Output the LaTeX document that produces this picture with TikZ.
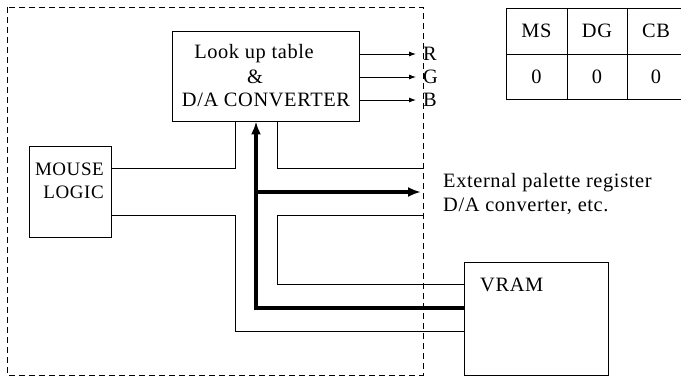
\documentclass[tikz,border=0pt]{standalone}
\usepackage{fontspec}
\setmainfont[LetterSpace=3]{Liberation Serif}
\usetikzlibrary{arrows.meta}
\begin{document}
\begin{tikzpicture}[x=1pt,y=-1pt,
  txt/.style={font=\fontsize{20.4}{23}\selectfont, inner sep=0pt},
  smalltxt/.style={font=\fontsize{19}{23}\selectfont, inner sep=0pt},
  blk/.style={draw, line width=0.9pt, inner sep=0pt},
  wire/.style={line width=0.9pt},
  bus/.style={line width=3.6pt},
  thinarr/.style={wire, -{Latex[length=7pt,width=5pt]}},
  busarr/.style={bus, -{Latex[length=13pt,width=10pt]}},
  frame/.style={line width=0.9pt, dash pattern=on 6pt off 4pt}]
\useasboundingbox (0,0) rectangle (681,377);
% dashed frame
\draw[frame] (7,7) rectangle (423,375);
% blocks
\node[blk, minimum width=187pt, minimum height=90pt] (lut) at (265.5,76) {};
\node[txt] (lut1) at (254,54) {Look up table};
\node[txt] (lut2) at (255,77) {\&};
\node[txt] (lut3) at (266,100) {D/A CONVERTER};
\node[blk, minimum width=82pt, minimum height=91pt] (mouse) at (70,191.5) {};
\node[smalltxt, anchor=east] (m1) at (104,169) {MOUSE};
\node[smalltxt, anchor=east] (m2) at (104,192) {LOGIC};
\node[blk, minimum width=144pt, minimum height=113pt] (vram) at (536,318.5) {};
\node[txt, anchor=west] (vt) at (480,285) {VRAM};
% RGB outputs
\coordinate (Rend) at (416,54);
\coordinate (Gend) at (416,77);
\coordinate (Bend) at (416,100);
\draw[thinarr] (lut.east |- Rend) -- (Rend);
\draw[thinarr] (lut.east |- Gend) -- (Gend);
\draw[thinarr] (lut.east |- Bend) -- (Bend);
\node[txt, anchor=west] (R) at (423,54) {R};
\node[txt, anchor=west] (G) at (423,77) {G};
\node[txt, anchor=west] (B) at (423,100) {B};
% wires
\coordinate (j1) at (235,168);
\draw[wire] (mouse.east |- j1) -- (j1) -- (j1 |- lut.south);
\coordinate (j2) at (277,168);
\coordinate (e1) at (423,168);
\draw[wire] (j2 |- lut.south) -- (j2) -- (e1);
\coordinate (j3) at (235,215);
\coordinate (j4) at (235,331);
\draw[wire] (mouse.east |- j3) -- (j3) -- (j4) -- (vram.west |- j4);
\coordinate (e2) at (423,215);
\coordinate (j5) at (277,215);
\coordinate (j6) at (277,284);
\draw[wire] (e2) -- (j5) -- (j6) -- (vram.west |- j6);
% bus
\coordinate (b1) at (256,308);
\coordinate (b2) at (256,192);
\coordinate (b3) at (421,192);
\draw[busarr, line join=miter] (vram.west |- b1) -- (b1) -- (b1 |- lut.south);
\draw[busarr] (b2) -- (b3);
\node[txt, anchor=west] (ext1) at (443,183) {External palette register};
\node[txt, anchor=west] (ext2) at (443,206) {D/A converter, etc.};
% register table
\draw[wire] (506,8) -- (681,8);
\draw[wire] (506,54) -- (681,54);
\draw[wire] (506,99) -- (681,99);
\draw[wire] (506,8) -- (506,99);
\draw[wire] (567,8) -- (567,99);
\draw[wire] (627,8) -- (627,99);
\node[txt] (ms) at (536.5,31) {MS};
\node[txt] (dg) at (597,31) {DG};
\node[txt] (cb) at (656,31) {CB};
\node[txt] (v1) at (536.5,77) {0};
\node[txt] (v2) at (597,77) {0};
\node[txt] (v3) at (656,77) {0};
\end{tikzpicture}
\end{document}
